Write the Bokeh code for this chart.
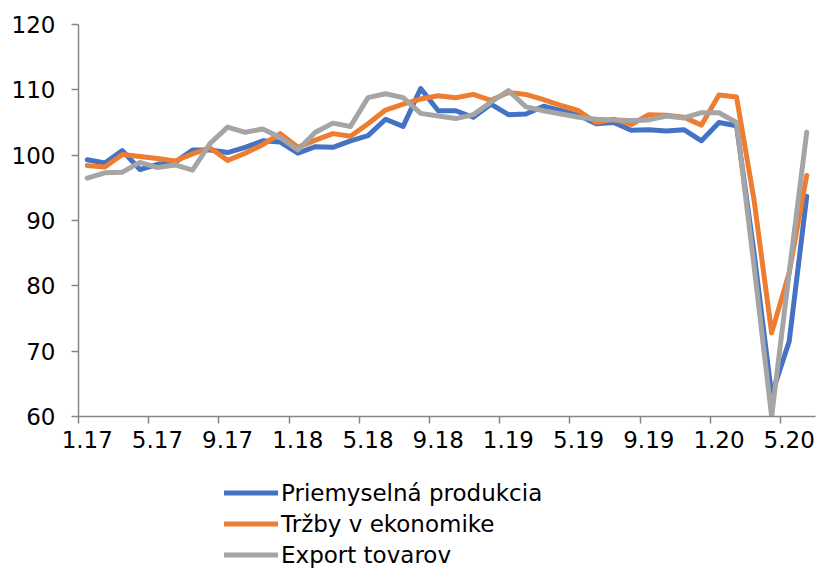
from bokeh.plotting import figure
from bokeh.layouts import column
from bokeh.models import Range1d, FixedTicker, Legend, LegendItem, ColumnDataSource
from bokeh.embed import file_html
from bokeh.resources import INLINE

# Monthly index values, Jan 2017 .. Jun 2020
priemyselna = [99.3, 98.8, 100.7, 97.8, 98.6, 98.9, 100.8, 100.8, 100.4, 101.2,
               102.2, 102.0, 100.3, 101.3, 101.2, 102.2, 103.0, 105.5, 104.4, 110.2,
               106.8, 106.8, 105.8, 107.8, 106.2, 106.3, 107.5, 106.8, 106.1, 104.8,
               105.0, 103.8, 103.9, 103.7, 103.9, 102.2, 105.0, 104.5, 85.0, 63.3,
               71.5, 93.7]
trzby = [98.4, 98.2, 100.1, 99.8, 99.5, 99.1, 100.2, 101.1, 99.2, 100.3,
         101.6, 103.3, 101.2, 102.3, 103.3, 102.9, 104.8, 106.9, 107.8, 108.6,
         109.1, 108.8, 109.3, 108.4, 109.6, 109.3, 108.5, 107.6, 106.8, 105.0,
         105.5, 104.7, 106.2, 106.1, 105.8, 104.6, 109.2, 108.9, 93.1, 72.8,
         82.0, 96.9]
export = [96.5, 97.3, 97.4, 98.9, 98.1, 98.5, 97.7, 101.8, 104.3, 103.5,
          104.0, 102.7, 100.8, 103.5, 104.9, 104.4, 108.8, 109.4, 108.8, 106.4,
          106.0, 105.6, 106.2, 108.1, 109.9, 107.4, 106.8, 106.3, 105.8, 105.5,
          105.4, 105.3, 105.4, 106.0, 105.7, 106.5, 106.5, 105.0, 83.0, 60.0,
          82.0, 103.5]
tick_labels = ["1.17", "5.17", "9.17", "1.18", "5.18", "9.18",
               "1.19", "5.19", "9.19", "1.20", "5.20"]
series_names = ["Priemyselná produkcia", "Tržby v ekonomike", "Export tovarov"]
colors = ["#4472C4", "#ED7D31", "#A5A5A5"]
y_ticks = [60, 70, 80, 90, 100, 110, 120]

n = len(priemyselna)
xs = list(range(n))
label_step = 4
major = [i * label_step for i in range(len(tick_labels))]
minor = [m - 0.5 for m in major]

font = "DejaVu Sans"
fsize = "23px"
axis_col = "#868686"

p = figure(frame_width=737, frame_height=392, output_backend="svg", toolbar_location=None,
           x_range=Range1d(-0.5, n - 0.5), y_range=Range1d(60, 120),
           min_border_left=78, min_border_right=3, min_border_top=24, min_border_bottom=40)
p.outline_line_color = None
p.xgrid.visible = False
p.ygrid.visible = False
p.background_fill_color = "white"
p.border_fill_color = "white"

xa = p.xaxis[0]
xa.ticker = FixedTicker(ticks=major, minor_ticks=minor)
xa.major_label_overrides = {m: lab for m, lab in zip(major, tick_labels)}
xa.major_tick_out = 0
xa.major_tick_in = 0
xa.minor_tick_out = 7
xa.minor_tick_in = 0
xa.minor_tick_line_color = axis_col
xa.minor_tick_line_width = 1.5
xa.axis_line_color = axis_col
xa.axis_line_width = 1.5
xa.major_label_standoff = 7
xa.major_label_text_font = font
xa.major_label_text_font_size = fsize
xa.major_label_text_color = "black"

ya = p.yaxis[0]
ya.ticker = FixedTicker(ticks=y_ticks)
ya.major_tick_out = 7
ya.major_tick_in = 0
ya.minor_tick_out = 0
ya.minor_tick_in = 0
ya.major_tick_line_color = axis_col
ya.major_tick_line_width = 1.5
ya.axis_line_color = axis_col
ya.axis_line_width = 1.5
ya.major_label_standoff = 16
ya.major_label_text_font = font
ya.major_label_text_font_size = fsize
ya.major_label_text_color = "black"

# legend panel below the chart (its own small figure, nothing drawn in view)
leg = figure(width=818, height=114, output_backend="svg", toolbar_location=None,
             min_border=0, x_range=Range1d(0, 1), y_range=Range1d(0, 1))
leg.axis.visible = False
leg.xgrid.visible = False
leg.ygrid.visible = False
leg.outline_line_color = None
leg.background_fill_color = "white"
leg.border_fill_color = "white"

items = []
for name, vals, col in zip(series_names, [priemyselna, trzby, export], colors):
    src = ColumnDataSource(dict(x=xs, y=vals))
    p.line("x", "y", source=src, line_color=col, line_width=5,
           line_join="round", line_cap="round")
    proxy = leg.line("x", "y", source=src, line_color=col, line_width=5, line_cap="round")
    items.append(LegendItem(label=name, renderers=[proxy]))

legend = Legend(items=items, location=(146, 0), orientation="vertical",
                glyph_width=54, glyph_height=31, label_height=31, spacing=0,
                padding=0, margin=0, label_standoff=3,
                label_text_font=font, label_text_font_size=fsize,
                label_text_color="black",
                border_line_color=None, background_fill_alpha=0)
leg.add_layout(legend, "center")

layout = column(p, leg, spacing=0)
open("out.html", "w").write(file_html(layout, INLINE))
